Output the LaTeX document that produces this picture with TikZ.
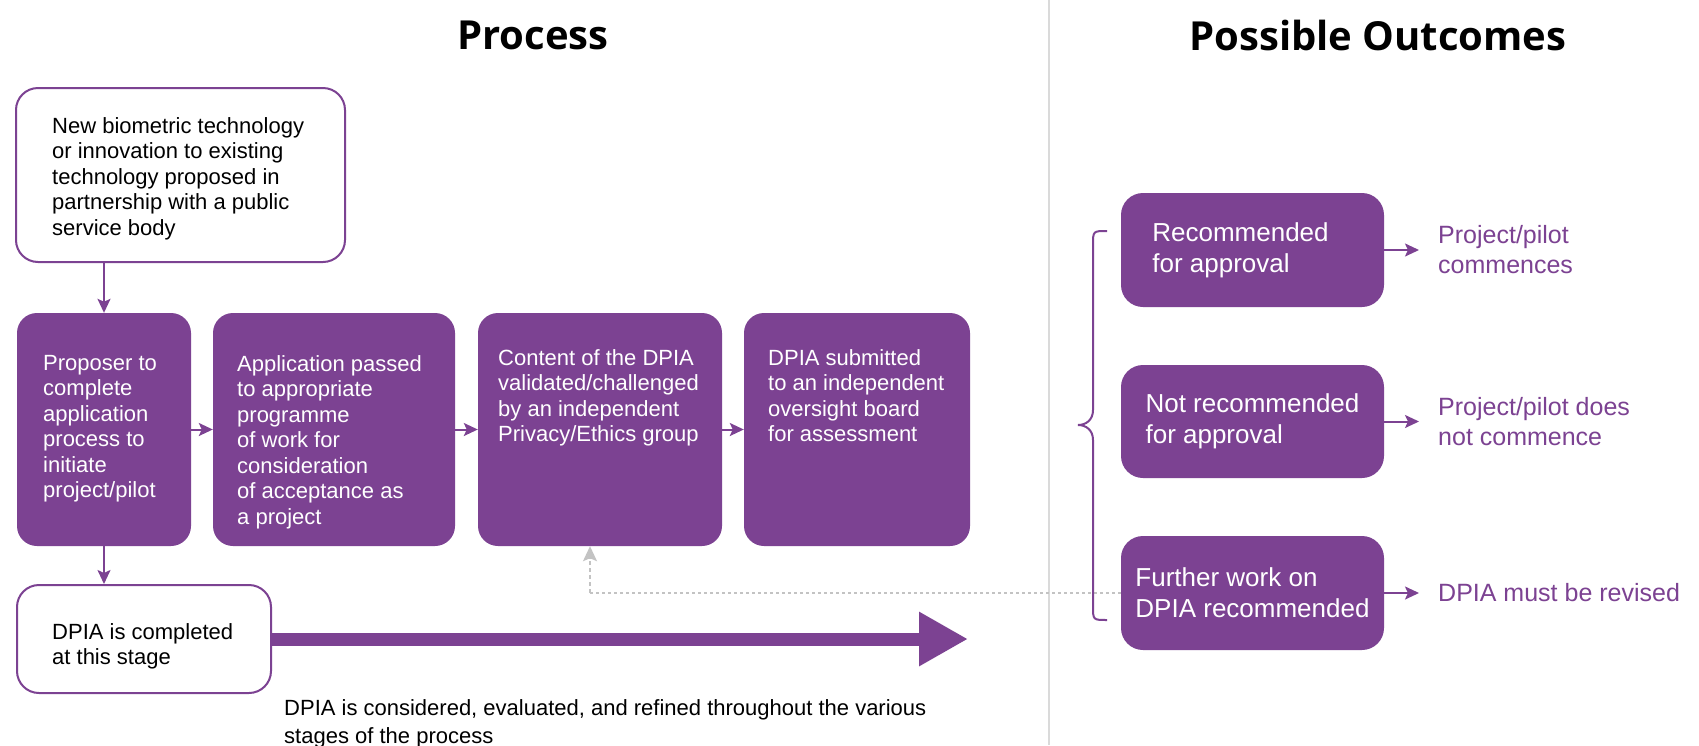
\documentclass[tikz,border=0pt]{standalone}
\usepackage{fontspec}
\setmainfont{Liberation Sans}
\newfontfamily\titlefont{Open Sans}
\usetikzlibrary{arrows.meta,calc}
\definecolor{pp}{RGB}{124,66,146}
\definecolor{divgray}{RGB}{218,218,218}
\definecolor{dgray}{RGB}{195,195,195}
\begin{document}
\begin{tikzpicture}[x=1pt,y=-1pt,
  wbox/.style={draw=pp, line width=2pt, rounded corners=22pt, fill=white, inner sep=0},
  pbox/.style={fill=pp, rounded corners=20pt, inner sep=0},
  btext/.style={font=\fontsize{22}{25.5}\selectfont, align=left, inner sep=0, anchor=north west},
  wtext/.style={btext, text=white},
  rbox/.style={pbox, rounded corners=22pt, minimum width=263pt, text=white, align=left, font=\fontsize{26}{31}\selectfont},
  otext/.style={text=pp, align=left, anchor=west, inner sep=0, font=\fontsize{25}{30}\selectfont},
  arr/.style={draw=pp, line width=2pt, -{Stealth[length=14pt,width=13pt,inset=3pt]}},
  ttl/.style={font=\titlefont\bfseries\fontsize{40}{48}\selectfont, inner sep=0}
]
\useasboundingbox (0,0) rectangle (1699,745);
\fill[white] (0,0) rectangle (1699,745);

% divider
\draw[divgray, line width=2pt] (1049,0) -- (1049,745);

% titles
\node[ttl] (tproc) at (533,35) {Process};
\node[ttl] (tout) at (1378,35) {Possible Outcomes};

% process boxes
\node[wbox, minimum width=329pt, minimum height=174pt] (wb1) at (180.5,175) {};
\node[btext] (wb1t) at (52,117) {New biometric technology\\or innovation to existing\\technology proposed in\\partnership with a public\\service body};

\node[pbox, minimum width=174pt, minimum height=233pt] (b1) at (104,429.5) {};
\node[pbox, minimum width=242pt, minimum height=233pt] (b2) at (334,429.5) {};
\node[pbox, minimum width=244pt, minimum height=233pt] (b3) at (600,429.5) {};
\node[pbox, minimum width=226pt, minimum height=233pt] (b4) at (857,429.5) {};

\node[wtext] (b1t) at (43,355) {Proposer to\\complete\\application\\process to\\initiate\\project/pilot};
\node[wtext] (b2t) at (237,355) {Application passed\\to appropriate\\programme\\of work for\\consideration\\of acceptance as\\a project};
\node[wtext] (b3t) at (498,349) {Content of the DPIA\\validated/challenged\\by an independent\\Privacy/Ethics group};
\node[wtext] (b4t) at (768,349) {DPIA submitted\\to an independent\\oversight board\\for assessment};

\node[wbox, minimum width=254pt, minimum height=108pt] (wb2) at (144,639) {};
\node[btext] (wb2t) at (52,623) {DPIA is completed\\at this stage};

\node[btext, font=\fontsize{22}{28}\selectfont] (cap) at (284,699) {DPIA is considered, evaluated, and refined throughout the various\\stages of the process};

% outcome boxes
\node[rbox, minimum height=114pt] (r1) at (1252.5,250) {Recommended\hspace*{24pt}\\for approval};
\node[rbox, minimum height=113pt] (r2) at (1252.5,421.5) {Not recommended\\for approval};
\node[rbox, minimum height=114pt] (r3) at (1252.5,593) {Further work on\\DPIA recommended};

\node[otext] (o1) at (1438,250) {Project/pilot\\commences};
\node[otext] (o2) at (1438,421.5) {Project/pilot does\\not commence};
\node[otext] (o3) at (1438,593) {DPIA must be revised};

% connectors
\draw[arr] (b1.north |- wb1.south) -- (b1.north);
\draw[arr] (b1.south) -- (b1.south |- wb2.north);
\draw[arr] (b1.east) -- (b2.west);
\draw[arr] (b2.east) -- (b3.west);
\draw[arr] (b3.east) -- (b4.west);

\coordinate (bigtip) at (968,639);
\draw[pp, line width=13pt, -{Triangle[length=49pt,width=51pt]}] (wb2.east) -- (bigtip);

\coordinate (fbk) at ($(b3.south)+(-10,0)$);
\draw[dgray, line width=1.5pt, dash pattern=on 3pt off 3pt] (r3.west) -- (r3.west -| fbk);
\draw[dgray, line width=1.5pt, dash pattern=on 4pt off 3pt, -{Stealth[length=15pt,width=14pt,inset=3pt]}] (r3.west -| fbk) -- (fbk);

\draw[arr] (r1.east) -- ([xshift=-19pt]o1.west);
\draw[arr] (r2.east) -- ([xshift=-19pt]o2.west);
\draw[arr] (r3.east) -- ([xshift=-19pt]o3.west);

% brace
\draw[pp, line width=2pt] (1107,231) .. controls (1093,231) .. (1093,245) -- (1093,410)
  .. controls (1093,420) and (1086,425) .. (1078,425)
  .. controls (1086,425) and (1093,430) .. (1093,440) -- (1093,606)
  .. controls (1093,620) .. (1107,620);
\end{tikzpicture}
\end{document}
